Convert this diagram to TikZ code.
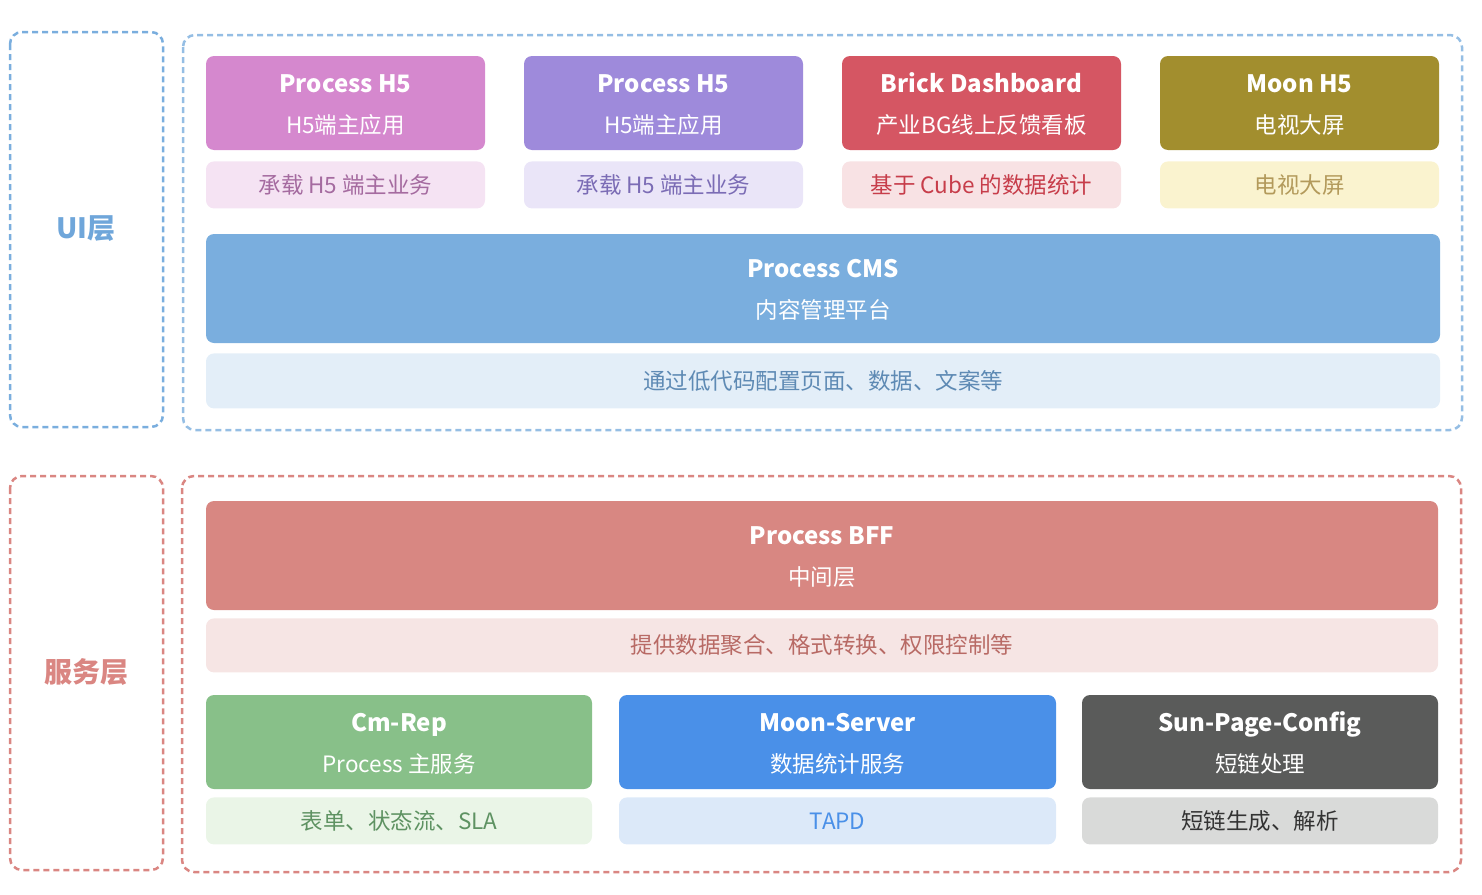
\documentclass[tikz,border=0pt]{standalone}
\usepackage{fontspec}
\setmainfont{Noto Sans CJK SC}
\usetikzlibrary{positioning}

\definecolor{uiblue}{HTML}{7AAEDE}
\definecolor{uilabel}{HTML}{6FA6DA}
\definecolor{svred}{HTML}{DA8682}
\definecolor{pinkc}{HTML}{D588CE}
\definecolor{pinkl}{HTML}{F5E3F3}
\definecolor{pinkt}{HTML}{A56BA0}
\definecolor{purpc}{HTML}{9E8ADB}
\definecolor{purpl}{HTML}{EAE5F8}
\definecolor{purpt}{HTML}{7B6CB5}
\definecolor{redc}{HTML}{D55663}
\definecolor{redl}{HTML}{F8E2E4}
\definecolor{redt}{HTML}{C73D4A}
\definecolor{olivec}{HTML}{A28E2E}
\definecolor{olivel}{HTML}{FAF3CF}
\definecolor{olivet}{HTML}{B39A5B}
\definecolor{cmsc}{HTML}{7AAEDE}
\definecolor{cmsl}{HTML}{E3EEF8}
\definecolor{cmst}{HTML}{5E8AB4}
\definecolor{bffc}{HTML}{D88782}
\definecolor{bffl}{HTML}{F6E5E4}
\definecolor{bfft}{HTML}{B86A65}
\definecolor{greenc}{HTML}{88C089}
\definecolor{greenl}{HTML}{EAF5E7}
\definecolor{greent}{HTML}{5E9262}
\definecolor{bluec}{HTML}{4A90E8}
\definecolor{bluel}{HTML}{DCE9F9}
\definecolor{greyc}{HTML}{5A5B5A}
\definecolor{greyl}{HTML}{D9DAD9}
\definecolor{greyt}{HTML}{333333}

% two-line card text: bold title over a plain subtitle, fixed baselines
\newcommand{\cardtitle}[2]{{\fontsize{24}{28}\selectfont\bfseries\rule[-8pt]{0pt}{30pt}#1}\\[8pt]{\fontsize{22.5}{26}\selectfont\rule[-3pt]{0pt}{27pt}#2}}

\tikzset{
  layerbox/.style={draw, line width=2.5pt, dash pattern=on 6pt off 4pt, rounded corners=12pt},
  layerlabel/.style={font=\fontsize{28}{32}\selectfont\bfseries},
  card/.style={rounded corners=8pt, inner sep=0pt, text=white, align=center, minimum width=279pt, minimum height=94pt},
  note/.style={rounded corners=8pt, inner sep=0pt, align=center, minimum width=279pt, minimum height=47pt,
    font=\fontsize{22.5}{26}\selectfont},
}

\begin{document}
\begin{tikzpicture}[x=1pt, y=-1pt]
\useasboundingbox (0,0) rectangle (1482,894);

% layer frames
\draw[layerbox, uiblue] (10,32) rectangle (163,427);
\draw[layerbox, uiblue!80] (183,35) rectangle (1462,430);
\draw[layerbox, svred] (10,476) rectangle (163,870);
\draw[layerbox, svred] (182,476) rectangle (1461,872);
\node[layerlabel, text=uilabel] (uil) at (86,229) {UI层};
\node[layerlabel, text=svred] (svl) at (86,672) {服务层};

% UI layer
\node[card, fill=pinkc] (ph1) at (345.5,103) {\cardtitle{Process H5}{H5端主应用}};
\node[note, fill=pinkl, text=pinkt, below=11pt of ph1] (ph1n) {承载 H5 端主业务};
\node[card, fill=purpc] (ph2) at (663.5,103) {\cardtitle{Process H5}{H5端主应用}};
\node[note, fill=purpl, text=purpt, below=11pt of ph2] (ph2n) {承载 H5 端主业务};
\node[card, fill=redc] (brick) at (981.5,103) {\cardtitle{Brick Dashboard}{产业BG线上反馈看板}};
\node[note, fill=redl, text=redt, below=11pt of brick] (brickn) {基于 Cube 的数据统计};
\node[card, fill=olivec] (moon) at (1299.5,103) {\cardtitle{Moon H5}{电视大屏}};
\node[note, fill=olivel, text=olivet, below=11pt of moon] (moonn) {电视大屏};

\node[card, fill=cmsc, minimum width=1234pt, minimum height=109pt] (cms) at (823,288.5) {\cardtitle{Process CMS}{内容管理平台}};
\node[note, fill=cmsl, text=cmst, minimum width=1234pt, minimum height=55pt, below=10pt of cms] (cmsn) {通过低代码配置页面、数据、文案等};

% service layer
\node[card, fill=bffc, minimum width=1232pt, minimum height=109pt] (bff) at (822,555.5) {\cardtitle{Process BFF}{中间层}};
\node[note, fill=bffl, text=bfft, minimum width=1232pt, minimum height=54pt, below=8pt of bff] (bffn) {提供数据聚合、格式转换、权限控制等};

\node[card, fill=greenc, minimum width=386pt] (cmrep) at (399,742) {\cardtitle{Cm-Rep}{Process 主服务}};
\node[note, fill=greenl, text=greent, minimum width=386pt, below=8pt of cmrep] (cmrepn) {表单、状态流、SLA};
\node[card, fill=bluec, minimum width=437pt] (msrv) at (837.5,742) {\cardtitle{Moon-Server}{数据统计服务}};
\node[note, fill=bluel, text=bluec, minimum width=437pt, below=8pt of msrv] (msrvn) {TAPD};
\node[card, fill=greyc, minimum width=356pt] (sun) at (1260,742) {\cardtitle{Sun-Page-Config}{短链处理}};
\node[note, fill=greyl, text=greyt, minimum width=356pt, below=8pt of sun] (sunn) {短链生成、解析};

\end{tikzpicture}
\end{document}
